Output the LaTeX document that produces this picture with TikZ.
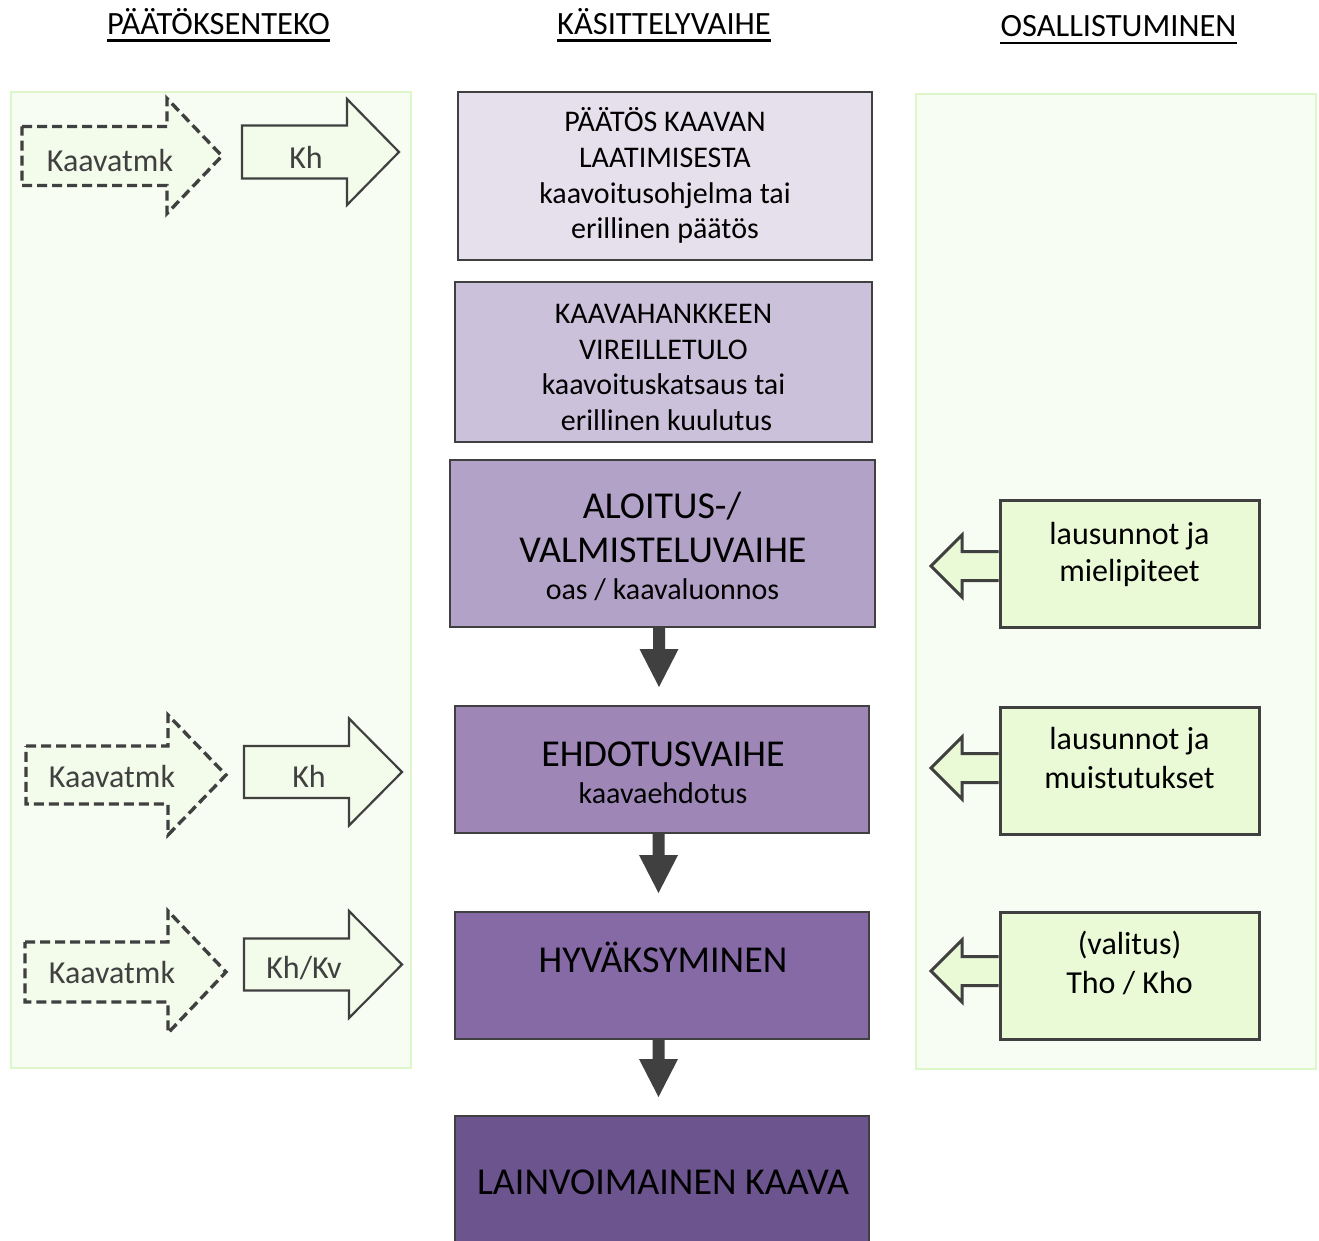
\documentclass[tikz,border=0pt]{standalone}
\usepackage{fontspec}
\setmainfont{Carlito}
\usetikzlibrary{calc}
\definecolor{dg}{HTML}{404040}
\definecolor{pA}{HTML}{E6E0EC}
\definecolor{pB}{HTML}{CCC1DA}
\definecolor{pC}{HTML}{B3A2C7}
\definecolor{pD}{HTML}{9E87B7}
\definecolor{pE}{HTML}{866AA5}
\definecolor{pF}{HTML}{6C548E}
\definecolor{gbox}{HTML}{EAF9D6}
\definecolor{gpanel}{HTML}{F8FDF3}
\definecolor{gpanelb}{HTML}{DEF7C8}
\definecolor{garrow}{HTML}{F3FBEA}
\newcommand{\fsS}{\fontsize{30}{36}\selectfont}
\newcommand{\fsL}{\fontsize{38}{44}\selectfont}
\newcommand{\fsM}{\fontsize{32}{39}\selectfont}
\newcommand{\fsH}{\fontsize{32.5}{39}\selectfont}
% right-pointing block arrow: style, x0, x1, x2, yc, body half, head half
\newcommand{\blockright}[7]{%
  \draw[#1] (#2,#5-#6) -- (#3,#5-#6) -- (#3,#5-#7) -- (#4,#5) -- (#3,#5+#7) -- (#3,#5+#6) -- (#2,#5+#6) -- cycle;}
% left-pointing block arrow out of a node's west side: node, y offset
\newcommand{\blockleft}[2]{%
  \coordinate (p) at ($(#1.west)+(-1.5,#2)$);
  \filldraw[rarrow] ($(p)+(0,-14.5)$) -- ($(p)+(-36.5,-14.5)$) -- ($(p)+(-36.5,-31)$) -- ($(p)+(-67.5,0)$) -- ($(p)+(-36.5,31)$) -- ($(p)+(-36.5,14.5)$) -- ($(p)+(0,14.5)$);}
% downward block arrow between two stacked nodes
\newcommand{\blockdown}[2]{%
  \coordinate (s) at ($(#1.south)+(-3.5,0)$);
  \coordinate (t) at ($(s |- #2.north)+(0,-19)$);
  \fill[dg] ($(s)+(-6,0)$) -- ($(t)+(-6,-38)$) -- ($(t)+(-19.5,-38)$) -- (t) -- ($(t)+(19.5,-38)$) -- ($(t)+(6,-38)$) -- ($(s)+(6,0)$) -- cycle;}
\begin{document}
\begin{tikzpicture}[x=1pt,y=-1pt,
  box/.style={draw=dg, line width=2.5pt, inner sep=0pt, outer sep=0pt},
  gbx/.style={draw=dg, line width=3pt, fill=gbox, inner sep=0pt, outer sep=0pt, minimum width=259pt, minimum height=127pt},
  panel/.style={draw=gpanelb, line width=2.5pt, fill=gpanel, inner sep=0pt, outer sep=0pt},
  txt/.style={inner sep=0pt, anchor=base, text=black},
  ltxt/.style={inner sep=0pt, anchor=base, text=dg, font=\fsM},
  hdr/.style={inner sep=0pt, anchor=base, text=black, font=\fsH},
  solidarrow/.style={draw=dg, line width=2.2pt, fill=garrow, line join=miter},
  dasharrow/.style={draw=dg, line width=3.4pt, fill=garrow, dash pattern=on 10pt off 5pt},
  rarrow/.style={draw=dg, line width=3pt, fill=gbox, line join=miter}
]
\useasboundingbox (0,0) rectangle (1319,1241);
\clip (0,0) rectangle (1319,1241);
\fill[white] (0,0) rectangle (1319,1241);

% headers
\node[hdr] (h1) at (218.5,34.5) {PÄÄTÖKSENTEKO};
\node[hdr] (h2) at (664,34.5) {KÄSITTELYVAIHE};
\node[hdr] (h3) at (1118.5,37) {OSALLISTUMINEN};
\foreach \h in {h1,h2,h3}
  \draw[line width=2.6pt] ($(\h.base west)+(0,6)$) -- ($(\h.base east)+(0,6)$);

% panels
\node[panel, minimum width=400pt, minimum height=976pt] (pl) at (211,580) {};
\node[panel, minimum width=400pt, minimum height=975pt] (pr) at (1116,581.5) {};

% left arrows
\blockright{dasharrow}{22}{167}{222}{156}{29.5}{57.5}
\blockright{solidarrow}{242}{347}{399}{152}{26.5}{53}
\node[ltxt] (k1) at (110,171.5) {Kaavatmk};
\node[ltxt] (kh1) at (306,168.5) {Kh};

\blockright{dasharrow}{26}{168}{226}{775}{29}{60}
\blockright{solidarrow}{244}{349}{402}{772}{26}{53.5}
\node[ltxt] (k2) at (112,787.5) {Kaavatmk};
\node[ltxt] (kh2) at (309,787.5) {Kh};

\blockright{dasharrow}{25}{168}{226}{972}{30}{61}
\blockright{solidarrow}{244}{349}{402}{964.5}{26}{53.5}
\node[ltxt] (k3) at (112,983.5) {Kaavatmk};
\node[ltxt] (kh3) at (304,978.5) {Kh/Kv};

% main column
\node[box, fill=pA, minimum width=414pt, minimum height=168pt] (b1) at (665,176) {};
\node[box, fill=pB, minimum width=417pt, minimum height=160pt] (b2) at (663.5,362) {};
\node[box, fill=pC, minimum width=425pt, minimum height=167pt] (b3) at (662.5,543.5) {};
\node[box, fill=pD, minimum width=414pt, minimum height=127pt] (b4) at (662,769.5) {};
\node[box, fill=pE, minimum width=414pt, minimum height=127pt] (b5) at (662,975.5) {};
\node[box, fill=pF, minimum width=414pt, minimum height=150pt] (b6) at (662,1191) {};

\node[txt, font=\fsS] (t11) at (665,132) {PÄÄTÖS KAAVAN};
\node[txt, font=\fsS] (t12) at (665,168) {LAATIMISESTA};
\node[txt, font=\fsS] (t13) at (665,204) {kaavoitusohjelma tai};
\node[txt, font=\fsS] (t14) at (665,239) {erillinen päätös};

\node[txt, font=\fsS] (t21) at (663.5,323) {KAAVAHANKKEEN};
\node[txt, font=\fsS] (t22) at (663.5,359) {VIREILLETULO};
\node[txt, font=\fsS] (t23) at (663.5,394) {kaavoituskatsaus tai};
\node[txt, font=\fsS] (t24) at (666.5,430) {erillinen kuulutus};

\node[txt, font=\fsL] (t31) at (662,518.5) {ALOITUS-/};
\node[txt, font=\fsL] (t32) at (663,562.5) {VALMISTELUVAIHE};
\node[txt, font=\fsS] (t33) at (662.5,599.5) {oas / kaavaluonnos};

\node[txt, font=\fsL] (t41) at (663,766) {EHDOTUSVAIHE};
\node[txt, font=\fsS] (t42) at (663,803.5) {kaavaehdotus};

\node[txt, font=\fsL] (t51) at (663,972.5) {HYVÄKSYMINEN};

\node[txt, font=\fsL] (t61) at (663,1194.5) {LAINVOIMAINEN KAAVA};

\blockdown{b3}{b4}
\blockdown{b4}{b5}
\blockdown{b5}{b6}

% participation column
\node[gbx] (r1) at (1129.5,563.5) {};
\node[gbx] (r2) at (1129.5,770.5) {};
\node[gbx] (r3) at (1129.5,975.5) {};
\blockleft{r1}{2.5}
\blockleft{r2}{-2.5}
\blockleft{r3}{-4.5}

\node[txt, font=\fsM] (s11) at (1129.5,544) {lausunnot ja};
\node[txt, font=\fsM] (s12) at (1129.5,581) {mielipiteet};
\node[txt, font=\fsM] (s21) at (1129.5,749) {lausunnot ja};
\node[txt, font=\fsM] (s22) at (1129.5,788) {muistutukset};
\node[txt, font=\fsM] (s31) at (1129.5,954) {(valitus)};
\node[txt, font=\fsM] (s32) at (1129.5,993) {Tho / Kho};
\end{tikzpicture}
\end{document}
